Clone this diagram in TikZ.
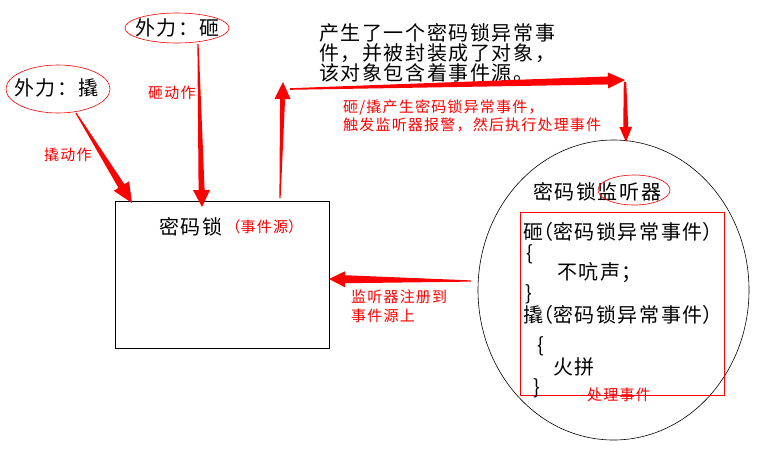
\documentclass[tikz,border=0pt]{standalone}
\usepackage{fontspec}
\usetikzlibrary{calc,shapes.geometric}
\newfontfamily\cjk[LetterSpace=8]{Noto Sans CJK SC}
\newcommand\bigf{\cjk\fontsize{20}{20}\selectfont}
\newcommand\redf{\cjk\fontsize{15}{18}\selectfont\color{red}}
\newcommand\myLP{\makebox[0.5em][r]{（}}
\newcommand\myRP{\makebox[0.5em][l]{）}}
% #1 start, #2 tip, #3 start half width, #4 shaft half width at head, #5 head half width, #6 head length
\newcommand\taparrow[6]{%
  \coordinate (hb) at ($(#2)!#6!(#1)$);
  \fill[red] ($(#1)!#3!90:(#2)$) -- ($(hb)!#4!90:(#2)$) -- ($(hb)!#5!90:(#2)$) -- (#2)
    -- ($(hb)!#5!-90:(#2)$) -- ($(hb)!#4!-90:(#2)$) -- ($(#1)!#3!-90:(#2)$) -- cycle;
}
\begin{document}
\begin{tikzpicture}[x=1pt,y=-1pt,
  txt/.style={inner sep=0pt, anchor=west, font=\bigf},
  rtxt/.style={inner sep=0pt, anchor=west, font=\redf, align=left},
  redell/.style={draw=red, line width=0.6pt, ellipse, inner sep=0pt},
  box/.style={draw, line width=0.8pt, inner sep=0pt, anchor=north west}]
\useasboundingbox (0,0) rectangle (762,467);
\fill[white] (0,0) rectangle (762,467);

% ellipses for the forces
\node[redell, minimum width=104, minimum height=30] (ezaell) at (177,28) {};
\node[txt] (eza) at (135,28) {外力：砸};
\node[redell, minimum width=104, minimum height=48] (eqiaoell) at (58,89) {};
\node[txt] (eqiao) at (14,88) {外力：撬};

% lock box
\node[box, minimum width=214, minimum height=147] (lock) at (115,201) {};
\node[txt] (locklbl) at (159,227) {密码锁};
\node[rtxt] (locksrc) at (233,227) {\myLP 事件源\myRP};

% description
\node[txt, align=left] (desc) at (319,53) {产生了一个密码锁异常事\\件，并被封装成了对象，\\该对象包含着事件源。};

% listener
\node[draw, line width=0.6pt, ellipse, minimum width=271, minimum height=300, inner sep=0pt] (listener) at (613.5,290) {};
\node[txt] (listlbl) at (533,192) {密码锁监听器};
\node[redell, minimum width=72, minimum height=30] (listell) at (634,190) {};
\node[draw=red, line width=0.6pt, inner sep=0pt, anchor=north west, minimum width=204, minimum height=183] (handler) at (520,212) {};
\node[txt] (l1) at (523,232) {砸\myLP 密码锁异常事件\myRP};
\node[txt] (l2) at (526,254) {\{};
\node[txt] (l3) at (557,273) {不吭声；};
\node[txt] (l4) at (525,294) {\}};
\node[txt] (l5) at (523,315) {撬\myLP 密码锁异常事件\myRP};
\node[txt] (l6) at (537,346) {\{};
\node[txt] (l7) at (553,367) {火拼};
\node[txt] (l8) at (533,388) {\}};
\node[rtxt] (handlbl) at (587,395) {处理事件};

% red labels
\node[rtxt] (zalbl) at (148,93) {砸动作};
\node[rtxt] (qiaolbl) at (44,155) {撬动作};
\node[rtxt] (evlbl1) at (343,107) {砸/撬产生密码锁异常事件，};
\node[rtxt] (evlbl2) at (343,125) {触发监听器报警，然后执行处理事件};
\node[rtxt] (reglbl1) at (351,297) {监听器注册到};
\node[rtxt] (reglbl2) at (351,316) {事件源上};

% connector end points
\coordinate (qs) at (76,113);
\coordinate (qt) at (132,203);
\coordinate (zs) at (198,44);
\coordinate (zt) at (202,207);
\coordinate (us) at (280,198);
\coordinate (ut) at (283,82);
\coordinate (hs) at (290,89);
\coordinate (ht) at (625,80);
\coordinate (ds) at (625,82);
\coordinate (dt) at (626,142);
\coordinate (ls) at (471,281);
\coordinate (lt) at (329,279);

\taparrow{qs}{qt}{0.6pt}{3.5pt}{9pt}{20pt}
\taparrow{zs}{zt}{0.6pt}{3pt}{8.5pt}{17pt}
\taparrow{us}{ut}{0.6pt}{2.5pt}{8pt}{17pt}
\taparrow{hs}{ht}{0.8pt}{4pt}{8pt}{17pt}
\taparrow{ds}{dt}{1.2pt}{2.5pt}{6.3pt}{15pt}
\taparrow{ls}{lt}{0.6pt}{4pt}{8pt}{16pt}
\end{tikzpicture}
\end{document}
